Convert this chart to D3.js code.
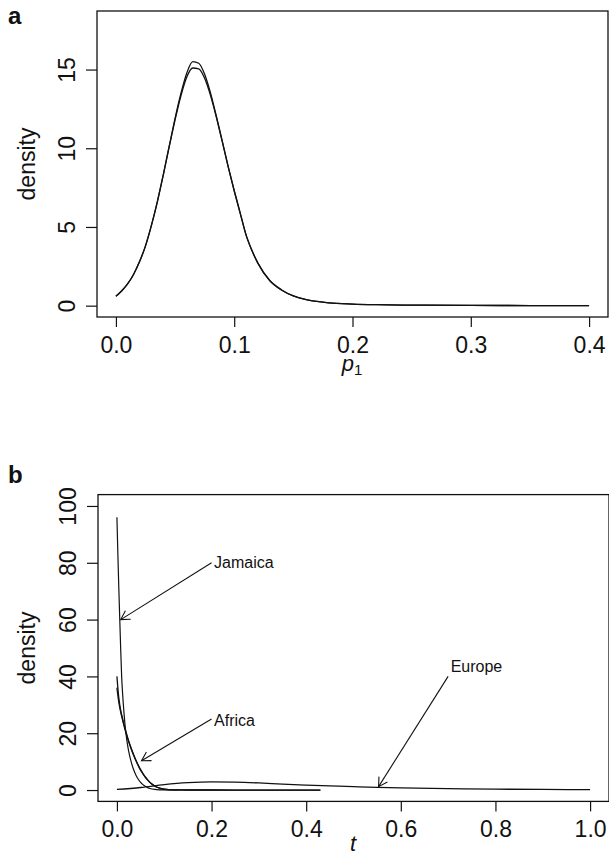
<!DOCTYPE html>
<html>
<head>
<meta charset="utf-8">
<script src="https://cdn.jsdelivr.net/npm/d3@7"></script>
<style>
  body { margin: 0; background: #fff; }
  text { font-family: "Liberation Sans", Arial, Helvetica, sans-serif; fill: #111; }
</style>
</head>
<body>
<div id="chart"></div>
<script>
// ---- panel a : posterior density of p1 (two runs) ----
var p1Grid = [0, 0.005, 0.01, 0.015, 0.02, 0.025, 0.03, 0.035, 0.04, 0.045, 0.05, 0.055, 0.06, 0.065, 0.07, 0.075, 0.08, 0.085, 0.09, 0.095, 0.1, 0.105, 0.11, 0.115, 0.12, 0.13, 0.14, 0.15, 0.16, 0.17, 0.18, 0.2, 0.22, 0.25, 0.3, 0.35, 0.4];
var p1Run1 = [0.6, 0.95, 1.4, 2.0, 2.8, 3.8, 5.1, 6.6, 8.3, 10.1, 11.9, 13.5, 14.8, 15.5, 15.4, 14.7, 13.5, 12.0, 10.4, 8.8, 7.3, 5.9, 4.5, 3.5, 2.7, 1.6, 1.0, 0.62, 0.4, 0.27, 0.18, 0.1, 0.06, 0.035, 0.015, 0.008, 0.005];
var p1Run2 = [0.6, 0.95, 1.4, 2.0, 2.8, 3.8, 5.1, 6.6, 8.3, 10.1, 11.8, 13.35, 14.55, 15.1, 15.05, 14.45, 13.35, 11.95, 10.4, 8.8, 7.3, 5.9, 4.5, 3.5, 2.7, 1.6, 1.0, 0.62, 0.4, 0.27, 0.18, 0.1, 0.06, 0.035, 0.015, 0.008, 0.005];
var p1Ticks = [0, 0.1, 0.2, 0.3, 0.4];
var densATicks = [0, 5, 10, 15];

// ---- panel b : densities of t ----
var jamaicaT = [0, 0.002, 0.004, 0.006, 0.008, 0.01, 0.012, 0.015, 0.018, 0.021, 0.025, 0.03, 0.035, 0.04, 0.045, 0.05, 0.055, 0.06, 0.065, 0.07, 0.08, 0.09, 0.1, 0.13];
var jamaicaDens = [96, 83, 71, 60, 49.5, 40, 34, 27, 21.5, 17.5, 13.5, 10, 7.3, 5.3, 3.8, 2.7, 1.9, 1.3, 0.85, 0.55, 0.22, 0.08, 0.03, 0.005];
var africaT = [0, 0.003, 0.006, 0.01, 0.015, 0.02, 0.025, 0.03, 0.035, 0.04, 0.045, 0.05, 0.055, 0.06, 0.065, 0.07, 0.075, 0.08, 0.09, 0.1, 0.12, 0.15, 0.2, 0.3, 0.43];
var africaDens1 = [40, 34, 30, 26.5, 23, 20, 17.2, 14.8, 12.6, 10.6, 8.8, 7.2, 5.8, 4.6, 3.6, 2.7, 2.0, 1.4, 0.7, 0.3, 0.08, 0.02, 0.005, 0.001, 0];
var africaDens2 = [36, 32, 29, 26, 22.6, 19.6, 16.9, 14.5, 12.3, 10.4, 8.6, 7.0, 5.7, 4.5, 3.5, 2.6, 1.9, 1.35, 0.65, 0.28, 0.07, 0.02, 0.005, 0.001, 0];
var europeT = [0, 0.05, 0.1, 0.15, 0.2, 0.25, 0.3, 0.35, 0.4, 0.45, 0.5, 0.55, 0.6, 0.7, 0.8, 0.9, 1.0];
var europeDens = [0.2, 0.9, 1.9, 2.6, 2.9, 2.8, 2.5, 2.1, 1.75, 1.45, 1.2, 0.95, 0.75, 0.5, 0.3, 0.2, 0.12];
var tTicks = [0, 0.2, 0.4, 0.6, 0.8, 1.0];
var densBTicks = [0, 20, 40, 60, 80, 100];

// annotations: label, arrow start (x,y), arrow tip (x,y), label y
var noteLabels = ["Jamaica", "Africa", "Europe"];
var noteFrom = [[0.2, 80], [0.2, 25], [0.7, 40]];
var noteTo = [[0.008, 60], [0.052, 10.3], [0.553, 1.2]];
var noteTextY = [80, 24.5, 43.5];

var W = 609, H = 857;
var svg = d3.select('#chart').append('svg')
	.attr('width', W)
	.attr('height', H)
	.style('background', '#fff');

var lineCol = '#111';

function panel(opt) {
	var x = d3.scaleLinear().domain(opt.xdom).range([opt.left, opt.right]);
	var y = d3.scaleLinear().domain(opt.ydom).range([opt.bottom, opt.top]);
	var g = svg.append('g');

	// x axis
	var xa = g.append('g')
		.attr('transform', 'translate(0,' + opt.bottom + ')')
		.call(d3.axisBottom(x).tickValues(opt.xticks).tickSize(10).tickFormat(d3.format('.1f')));
	xa.select('.domain').remove();
	xa.selectAll('line').attr('stroke', lineCol).attr('stroke-width', 1.2);
	xa.selectAll('text')
		.attr('y', 36).attr('dy', null)
		.style('font-size', '23px')
		.attr('fill', lineCol);

	// y axis, labels rotated like R
	var ya = g.append('g')
		.attr('transform', 'translate(' + opt.left + ',0)')
		.call(d3.axisLeft(y).tickValues(opt.yticks).tickSize(11).tickFormat(d3.format('d')));
	ya.select('.domain').remove();
	ya.selectAll('line').attr('stroke', lineCol).attr('stroke-width', 1.2);
	ya.selectAll('text')
		.attr('x', null).attr('dy', null)
		.attr('text-anchor', 'middle')
		.attr('transform', 'translate(-22,0) rotate(-90)')
		.style('font-size', '23px')
		.attr('fill', lineCol);

	// box
	g.append('rect')
		.attr('x', opt.left)
		.attr('y', opt.top)
		.attr('width', opt.right - opt.left)
		.attr('height', opt.bottom - opt.top)
		.style('fill', 'none')
		.style('stroke', lineCol)
		.style('stroke-width', 1.3);

	// y label
	g.append('text')
		.attr('transform', 'translate(35,' + ((opt.top + opt.bottom) / 2) + ') rotate(-90)')
		.attr('text-anchor', 'middle')
		.style('font-size', '23px')
		.text('density');

	// panel letter
	g.append('text')
		.attr('x', 8)
		.attr('y', opt.letterY)
		.style('font-size', '24px')
		.style('font-weight', 'bold')
		.text(opt.letter);

	return {x: x, y: y, g: g};
}

function curve(p, xs, ys, w) {
	var pts = xs.map(function(d, i) { return [d, ys[i]]; });
	p.g.append('path')
		.datum(pts)
		.attr('d', d3.line()
			.x(function(d) { return p.x(d[0]); })
			.y(function(d) { return p.y(d[1]); })
			.curve(d3.curveMonotoneX))
		.style('fill', 'none')
		.style('stroke', lineCol)
		.style('stroke-width', w || 1.3);
}

//---panel a---
var pa = panel({
	xdom: [-0.016, 0.416], ydom: [-0.72, 18.72],
	left: 97, right: 608, top: 11, bottom: 317,
	xticks: p1Ticks, yticks: densATicks, letter: 'a', letterY: 24
});
curve(pa, p1Grid, p1Run1);
curve(pa, p1Grid, p1Run2);

var xlabA = pa.g.append('text')
	.attr('x', 352)
	.attr('y', 371)
	.attr('text-anchor', 'middle')
	.style('font-size', '22px');
xlabA.append('tspan').style('font-style', 'italic').text('p');
xlabA.append('tspan').attr('dy', 4).style('font-size', '15px').text('1');

//---panel b---
var pb = panel({
	xdom: [-0.04, 1.04], ydom: [-4, 104],
	left: 98, right: 609, top: 494.6, bottom: 801.4,
	xticks: tTicks, yticks: densBTicks, letter: 'b', letterY: 483
});
curve(pb, europeT, europeDens);
curve(pb, africaT, africaDens1);
curve(pb, africaT, africaDens2);
curve(pb, jamaicaT, jamaicaDens, 1.2);

pb.g.append('text')
	.attr('x', 353)
	.attr('y', 851)
	.attr('text-anchor', 'middle')
	.style('font-size', '22px')
	.style('font-style', 'italic')
	.text('t');

// arrows with open heads (R style)
noteLabels.forEach(function(lab, i) {
	var x0 = pb.x(noteFrom[i][0]), y0 = pb.y(noteFrom[i][1]);
	var x1 = pb.x(noteTo[i][0]), y1 = pb.y(noteTo[i][1]);
	var ang = Math.atan2(y0 - y1, x0 - x1), hl = 10, ha = Math.PI / 6;
	pb.g.append('line')
		.attr('x1', x0).attr('y1', y0).attr('x2', x1).attr('y2', y1)
		.style('stroke', lineCol).style('stroke-width', 1.1);
	pb.g.append('path')
		.attr('d', 'M' + (x1 + hl * Math.cos(ang + ha)) + ',' + (y1 + hl * Math.sin(ang + ha)) +
			'L' + x1 + ',' + y1 +
			'L' + (x1 + hl * Math.cos(ang - ha)) + ',' + (y1 + hl * Math.sin(ang - ha)))
		.style('fill', 'none').style('stroke', lineCol).style('stroke-width', 1.1);
	pb.g.append('text')
		.attr('x', x0 + 2.5)
		.attr('y', pb.y(noteTextY[i]))
		.attr('dy', '0.35em')
		.style('font-size', '16px')
		.text(lab);
});
</script>
</body>
</html>
